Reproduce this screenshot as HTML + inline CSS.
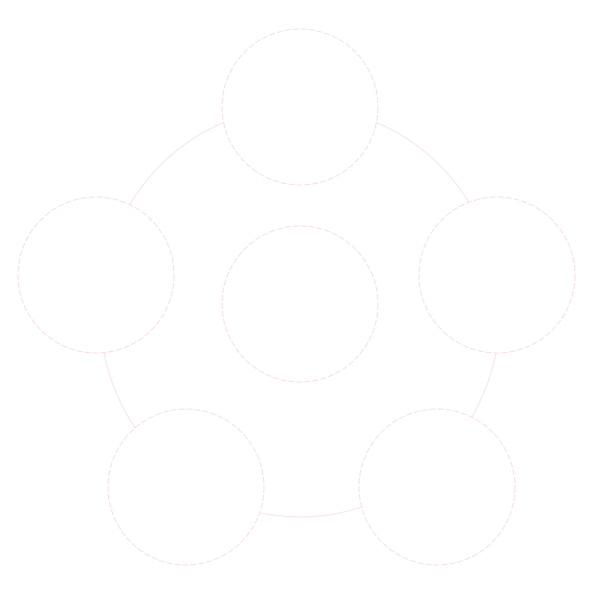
<!DOCTYPE html>
<html><head><style>body{margin:0;background:#fff}</style></head><body>
<svg width="600" height="600" xmlns="http://www.w3.org/2000/svg">
<ellipse cx="300" cy="312" rx="200" ry="205" fill="none" stroke="#f7e4e6" stroke-width="1"/>
<g fill="#fff" stroke="#f6dfe3" stroke-width="1" stroke-dasharray="6 2">
<circle cx="300" cy="107" r="78"/>
<circle cx="96" cy="275" r="78"/>
<circle cx="497" cy="275" r="78"/>
<circle cx="186" cy="487" r="78"/>
<circle cx="437" cy="487" r="78"/>
<circle cx="300" cy="304" r="78"/>
</g>
</svg>
</body></html>
